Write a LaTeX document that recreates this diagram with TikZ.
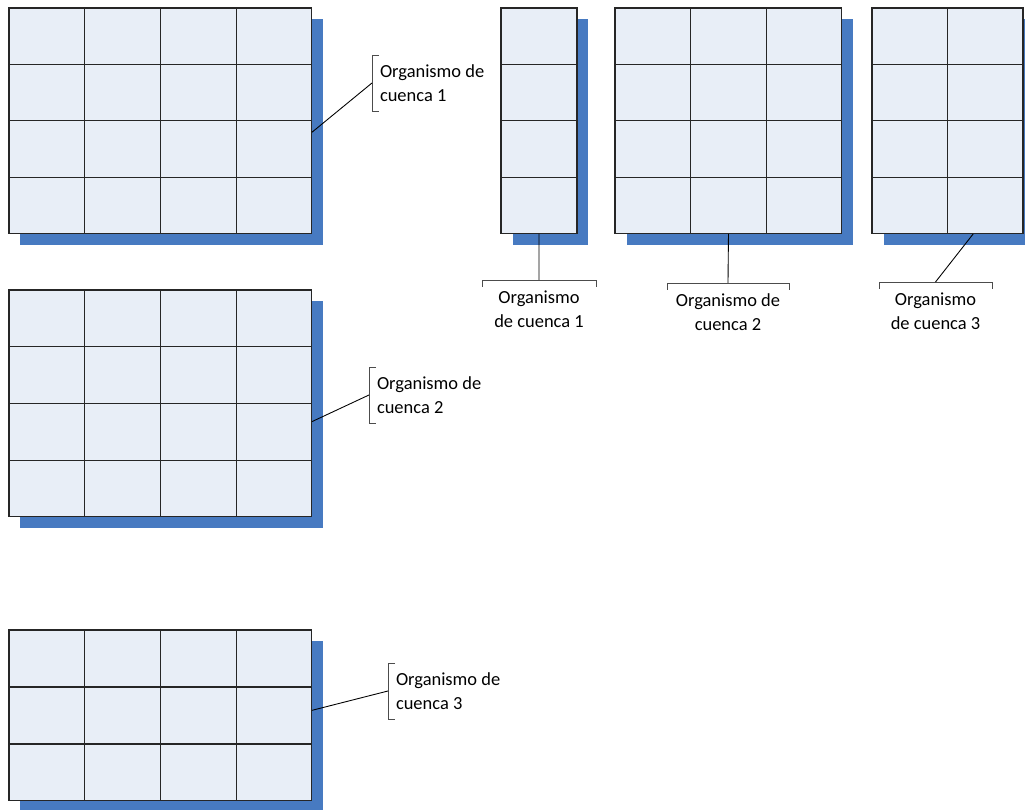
\documentclass[tikz,border=0pt]{standalone}
\usepackage{fontspec}
\setmainfont{Carlito}
\usetikzlibrary{positioning, calc, shadows}
\definecolor{cellfill}{RGB}{232,238,247}
\definecolor{shadowblue}{RGB}{71,122,193}

\begin{document}
\begin{tikzpicture}[
    x=0.02cm, y=-0.02cm,
    font=\fontsize{10.5}{13.6}\selectfont,
    tablebox/.style={
        draw=black!85, line width=0.6pt, fill=cellfill,
        anchor=north west, inner sep=0pt, outer sep=0pt,
        general shadow={fill=shadowblue, shadow xshift=0.23cm, shadow yshift=-0.23cm}
    },
    cellline/.style={draw=black!85, line width=0.6pt},
    sidenote/.style={
        anchor=north west, align=left, inner xsep=0.16cm, inner ysep=0pt,
        outer sep=0pt, minimum height=1.12cm
    },
    undernote/.style={
        anchor=north, align=center, inner xsep=0pt, inner ysep=0.22cm,
        outer sep=0pt
    },
    bracketline/.style={draw=black!70, line width=0.5pt},
    leader/.style={draw=black, line width=0.5pt}
]
\useasboundingbox (0,0) rectangle (1025,810);

% --- Left tables ---
\node[tablebox, minimum width=6.06cm, minimum height=4.52cm] (ga) at (9,8) {};
\node[tablebox, minimum width=6.06cm, minimum height=4.54cm] (gb) at (9,290) {};
\node[tablebox, minimum width=6.06cm, minimum height=3.42cm] (gc) at (9,630) {};

% --- Top right tables ---
\node[tablebox, minimum width=1.52cm, minimum height=4.52cm] (gd) at (501,8) {};
\node[tablebox, minimum width=4.54cm, minimum height=4.52cm] (ge) at (615,8) {};
\node[tablebox, minimum width=3.02cm, minimum height=4.52cm] (gf) at (872,8) {};

% --- Cell lines ---
\foreach \g/\c/\r in {ga/4/4, gb/4/4, gc/4/3, gd/1/4, ge/3/4, gf/2/4} {
    \foreach \i in {1,...,\c}
        \draw[cellline] ($(\g.north west)!\i/\c!(\g.north east)$)
            -- ($(\g.south west)!\i/\c!(\g.south east)$);
    \foreach \j in {1,...,\r}
        \draw[cellline] ($(\g.north west)!\j/\r!(\g.south west)$)
            -- ($(\g.north east)!\j/\r!(\g.south east)$);
}

% --- Side callouts ---
\node[sidenote] (na) at (372,55) {Organismo de\\cuenca 1};
\node[sidenote] (nb) at (369,367) {Organismo de\\cuenca 2};
\node[sidenote] (nc) at (388,663) {Organismo de\\cuenca 3};
\foreach \n in {na, nb, nc}
    \draw[bracketline] ([xshift=0.14cm]\n.north west) -- (\n.north west)
        -- (\n.south west) -- ([xshift=0.14cm]\n.south west);

\draw[leader] ($(ga.north east)!0.55!(ga.south east)$) -- (na.west);
\draw[leader] ($(gb.north east)!0.58!(gb.south east)$) -- (nb.west);
\draw[leader] ($(gc.north east)!0.47!(gc.south east)$) -- (nc.west);

% --- Callouts under the tables ---
\node[undernote, minimum width=2.28cm] (nd) at (539,280) {Organismo\\de cuenca 1};
\node[undernote, minimum width=2.44cm] (ne) at (728,283) {Organismo de\\cuenca 2};
\node[undernote, minimum width=2.26cm] (nf) at (935.5,282) {Organismo\\de cuenca 3};
\foreach \n in {nd, ne, nf}
    \draw[bracketline] ([yshift=-0.14cm]\n.north west) -- (\n.north west)
        -- (\n.north east) -- ([yshift=-0.14cm]\n.north east);

\draw[leader] (gd.south) -- (nd.north);
\draw[leader] (ge.south) -- (ne.north);
\draw[leader] ($(gf.south west)!0.67!(gf.south east)$) -- (nf.north);

\end{tikzpicture}
\end{document}
